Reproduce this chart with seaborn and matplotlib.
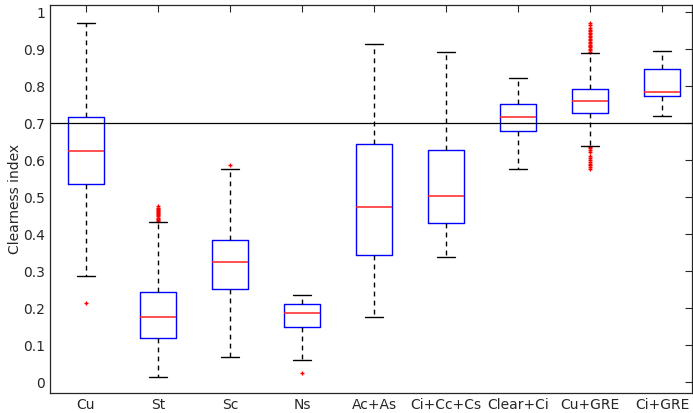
import matplotlib
matplotlib.use("Agg")
import matplotlib.pyplot as plt
import numpy as np
import pandas as pd
import seaborn as sns

# values
categories = ["Cu", "St", "Sc", "Ns", "Ac+As", "Ci+Cc+Cs", "Clear+Ci", "Cu+GRE", "Ci+GRE"]
whisker_low = [0.287, 0.015, 0.068, 0.060, 0.177, 0.338, 0.576, 0.639, 0.720]
q1 = [0.537, 0.118, 0.253, 0.150, 0.344, 0.429, 0.678, 0.729, 0.775]
median = [0.625, 0.175, 0.324, 0.188, 0.473, 0.503, 0.717, 0.761, 0.785]
q3 = [0.716, 0.244, 0.384, 0.210, 0.644, 0.627, 0.752, 0.794, 0.848]
whisker_high = [0.970, 0.434, 0.577, 0.235, 0.915, 0.893, 0.823, 0.891, 0.896]

# outliers (dense clusters estimated by eye)
st_fliers = [0.436, 0.439, 0.442, 0.445, 0.448, 0.451, 0.454, 0.457, 0.460,
             0.463, 0.466, 0.469, 0.472, 0.475]
gre_high_fliers = [0.893, 0.897, 0.901, 0.905, 0.909, 0.913, 0.917, 0.921, 0.925,
                   0.929, 0.933, 0.937, 0.941, 0.945, 0.949, 0.953, 0.957, 0.966, 0.970]
gre_low_fliers = [0.636, 0.632, 0.627, 0.623, 0.611, 0.606, 0.601, 0.596, 0.591,
                  0.586, 0.581, 0.576]
outlier_cat = (["Cu"] + ["St"] * len(st_fliers) + ["Sc"] + ["Ns"]
               + ["Cu+GRE"] * (len(gre_high_fliers) + len(gre_low_fliers)))
outlier_val = [0.213] + st_fliers + [0.588] + [0.025] + gre_high_fliers + gre_low_fliers

threshold = 0.7
yticks = [0, 0.1, 0.2, 0.3, 0.4, 0.5, 0.6, 0.7, 0.8, 0.9, 1]
ytick_labels = ["0", "0.1", "0.2", "0.3", "0.4", "0.5", "0.6", "0.7", "0.8", "0.9", "1"]

sns.set_style("white")
plt.rcParams["font.family"] = ["DejaVu Sans"]

fig = plt.figure(figsize=(6.93, 4.13), dpi=100)
ax = fig.add_axes([0.072, 0.048, 0.927, 0.940])

stats = []
for i, name in enumerate(categories):
    stats.append({"label": name, "whislo": whisker_low[i], "q1": q1[i],
                  "med": median[i], "q3": q3[i], "whishi": whisker_high[i],
                  "fliers": []})

positions = np.arange(1, len(categories) + 1)
ax.bxp(stats, positions=positions, widths=0.5, capwidths=0.25, showfliers=False,
       boxprops=dict(color="#0000ff", linewidth=1.0),
       medianprops=dict(color="#ff2020", linewidth=1.1),
       whiskerprops=dict(color="black", linewidth=1.0, linestyle=(0, (3.5, 3))),
       capprops=dict(color="black", linewidth=1.0))

df = pd.DataFrame({"cat": outlier_cat, "val": outlier_val})
df["pos"] = df["cat"].map({c: p for c, p in zip(categories, positions)})
sns.scatterplot(data=df, x="pos", y="val", marker="+", color="#ff0000",
                s=9, linewidth=1.0, ax=ax, legend=False)

ax.axhline(threshold, color="black", linewidth=0.9)

ax.set_xlim(0.5, 9.42)
ax.set_ylim(-0.03, 1.02)
ax.set_xticks(positions)
ax.set_xticklabels(categories)
ax.set_yticks(yticks)
ax.set_yticklabels(ytick_labels)
ax.set_xlabel("")
ax.set_ylabel("Clearness index", fontsize=10, color="#262626")
ax.yaxis.set_label_coords(-0.044, 0.5)
ax.tick_params(direction="in", length=5, width=0.8, top=True, right=True,
               labelsize=10, labelcolor="#262626", color="#262626")
for side in ax.spines.values():
    side.set_color("#262626")
    side.set_linewidth(0.9)

fig.savefig("out.png", dpi=100)
